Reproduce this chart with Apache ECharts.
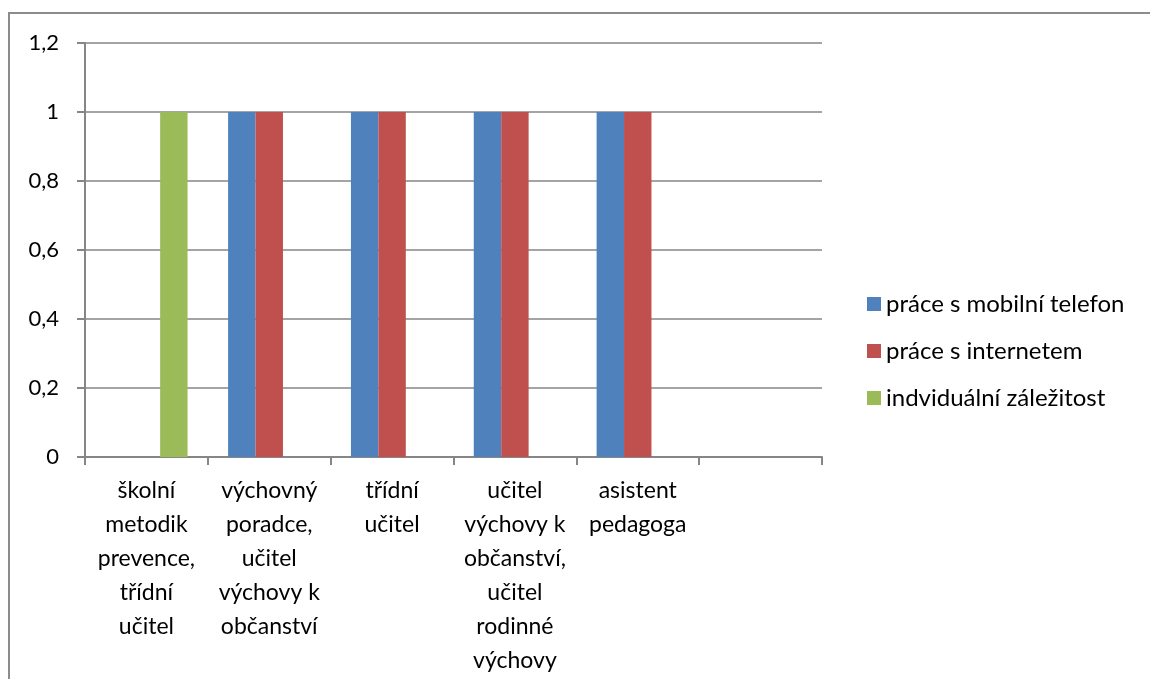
<!DOCTYPE html>
<html>
<head>
<meta charset="utf-8">
<script src="https://cdn.jsdelivr.net/npm/echarts@6/dist/echarts.min.js"></script>
<style>
  html, body { margin: 0; padding: 0; background: #fff; }
  #main { width: 1150px; height: 679px; }
</style>
</head>
<body>
<div id="main"></div>
<script>
// kategorie (osa x)
const categories = [
  "školní\nmetodik\nprevence,\ntřídní\nučitel",
  "výchovný\nporadce,\nučitel\nvýchovy k\nobčanství",
  "třídní\nučitel",
  "učitel\nvýchovy k\nobčanství,\nučitel\nrodinné\nvýchovy",
  "asistent\npedagoga",
  ""
];
const seriesNames = ["práce s mobilní telefon", "práce s internetem", "indviduální záležitost"];
const mobil = [null, 1, 1, 1, 1, null];
const internet = [null, 1, 1, 1, 1, null];
const individual = [1, null, null, null, null, null];
const colors = ["#4F81BD", "#C0504D", "#9BBB59"];

const font = "Lato, 'Open Sans', sans-serif";
const axisGray = "#868686";

const chart = echarts.init(document.getElementById("main"));
const option = {
  animation: false,
  color: colors,
  textStyle: { fontFamily: font, color: "#000" },
  graphic: [{
    type: "rect",
    shape: { x: 9, y: 13, width: 1300, height: 800 },
    style: { fill: "none", stroke: "#8c8c8c", lineWidth: 2 },
    silent: true
  }],
  grid: { left: 85, right: 328, top: 43, bottom: 222, containLabel: false },
  legend: {
    orient: "vertical",
    left: 862,
    top: 287,
    itemWidth: 14,
    itemHeight: 14,
    itemGap: 23,
    icon: "rect",
    textStyle: { fontFamily: font, fontSize: 24, color: "#000", padding: [0, 0, 0, 0] },
    data: seriesNames
  },
  xAxis: {
    type: "category",
    data: categories,
    axisLine: { lineStyle: { color: axisGray, width: 2 } },
    axisTick: { show: true, length: 8, lineStyle: { color: axisGray, width: 2 } },
    axisLabel: {
      interval: 0,
      fontFamily: font,
      fontSize: 23,
      color: "#000",
      lineHeight: 34,
      margin: 17,
      align: "center"
    }
  },
  yAxis: {
    type: "value",
    min: 0,
    max: 1.2,
    interval: 0.2,
    axisLine: { show: true, lineStyle: { color: axisGray, width: 2 } },
    axisTick: { show: true, length: 8, lineStyle: { color: axisGray, width: 2 } },
    splitLine: { lineStyle: { color: axisGray, width: 1.5 } },
    axisLabel: {
      fontFamily: font,
      fontSize: 22,
      color: "#000",
      margin: 26,
      formatter: v => String(Math.round(v * 10) / 10).replace(".", ",")
    }
  },
  series: [
    { name: seriesNames[0], type: "bar", data: mobil, barGap: "0%", barCategoryGap: "33%" },
    { name: seriesNames[1], type: "bar", data: internet, barGap: "0%", barCategoryGap: "33%" },
    { name: seriesNames[2], type: "bar", data: individual, barGap: "0%", barCategoryGap: "33%" }
  ]
};
chart.setOption(option);
</script>
</body>
</html>
